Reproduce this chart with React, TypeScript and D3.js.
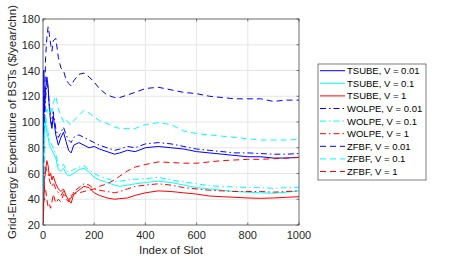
import React, { useRef, useEffect } from 'react';
import * as d3 from 'd3';

const slots = [1, 3, 6, 10, 15, 20, 25, 30, 35, 40, 50, 60, 70, 80, 90, 100, 110, 120, 140, 160, 180, 200, 220, 250, 280, 300, 330, 360, 400, 450, 500, 550, 600, 650, 700, 750, 800, 850, 900, 950, 1000];

const tsube001 = [22, 140, 110, 125, 135, 128, 110, 100, 95, 105, 90, 82, 88, 92, 85, 78, 76, 82, 84, 82, 80, 81, 79, 77, 75, 76, 78, 77, 80, 81, 80, 79, 77, 76, 75, 74, 73, 73, 72, 72, 72.5];
const tsube01 = [22, 70, 95, 100, 92, 88, 82, 80, 78, 76, 72, 63, 62, 64, 60, 58, 59, 60, 63, 64, 61, 57, 55, 53, 51, 50, 51, 52, 53, 54, 53, 51, 49, 48, 47, 46, 45.5, 45, 44.6, 45.5, 46.5];
const tsube1 = [22, 40, 55, 62, 70, 66, 58, 60, 55, 58, 52, 48, 46, 48, 43, 39, 37, 44, 47, 50, 49, 45, 43, 41, 40, 40.5, 41, 43, 45, 46.5, 46, 45, 44, 42.5, 42, 41.5, 41, 40.7, 41, 41.5, 42];
const wolpe001 = [22, 120, 100, 118, 130, 125, 112, 104, 98, 108, 95, 88, 92, 96, 90, 86, 84, 88, 90, 88, 86, 84, 82, 80, 78, 79, 81, 80, 83, 84, 83, 81, 79, 78, 77, 76, 76, 75.5, 75, 75, 75.5];
const wolpe01 = [22, 85, 100, 105, 97, 92, 86, 84, 82, 80, 75, 67, 66, 67, 63, 61, 62, 63, 65, 66, 63, 60, 58, 56, 54, 54, 55, 55.5, 56, 57, 55, 53.5, 52, 50.5, 50, 49.5, 49, 49, 48.5, 49, 49.3];
const wolpe1 = [22, 45, 58, 65, 62, 60, 55, 52, 50, 53, 48, 45, 43, 46, 42, 40, 41, 46, 49, 52, 51, 48, 47, 46, 45, 46, 48, 50, 51, 52, 51, 49, 48, 47, 46.5, 46, 46, 46, 45.5, 46, 46.5];
const zfbf001 = [22, 60, 110, 150, 165, 174, 168, 160, 155, 163, 165, 150, 142, 140, 133, 130, 128, 132, 137, 138, 135, 131, 126, 121, 119, 119, 121, 123, 126, 127, 125, 123, 122, 120, 119, 118, 118, 118, 116, 117, 117];
const zfbf01 = [22, 50, 90, 105, 110, 108, 106, 112, 108, 115, 120, 110, 105, 100, 102, 99, 98, 101, 105, 109, 107, 104, 101, 99, 96, 95, 95, 95, 98, 99.5, 98, 93, 91, 90, 89, 88, 87, 86, 86, 86, 86.5];
const zfbf1 = [22, 35, 50, 48, 40, 34, 36, 33, 38, 44, 37, 40, 38, 44, 40, 38, 43, 44, 45, 46, 47, 48, 50, 52, 55, 58, 62, 65, 67, 69, 68.5, 68, 68, 69, 70, 70.5, 71, 71, 71.5, 72, 72.5];

const seriesNames = ['TSUBE, V = 0.01', 'TSUBE, V = 0.1', 'TSUBE, V = 1', 'WOLPE, V = 0.01', 'WOLPE, V = 0.1', 'WOLPE, V = 1', 'ZFBF, V = 0.01', 'ZFBF, V = 0.1', 'ZFBF, V = 1'];
const seriesValues = [tsube001, tsube01, tsube1, wolpe001, wolpe01, wolpe1, zfbf001, zfbf01, zfbf1];
const seriesColors = ['#0000ff', '#00ffff', '#ff0000', '#0000ff', '#00ffff', '#ff0000', '#0000ff', '#00ffff', '#ff0000'];
const seriesDash = ['none', 'none', 'none', '6,3,1.5,3', '6,3,1.5,3', '6,3,1.5,3', '6,4', '6,4', '6,4'];

const xTicks = [0, 200, 400, 600, 800, 1000];
const yTicks = [20, 40, 60, 80, 100, 120, 140, 160, 180];

const App = () => {
  const chartRef = useRef(null);

  useEffect(() => {
    if (!chartRef.current) return;
    d3.select(chartRef.current).html('');

    const W = 457;
    const H = 258;
    const left = 43, right = 299, top = 19, bottom = 225;
    const axisColor = '#262626';
    const font = 'Liberation Sans, Arial, sans-serif';

    const x = d3.scaleLinear().domain([0, 1000]).range([left, right]);
    const y = d3.scaleLinear().domain([20, 180]).range([bottom, top]);

    const svg = d3
      .select(chartRef.current)
      .append('svg')
      .attr('width', W)
      .attr('height', H)
      .style('position', 'absolute')
      .style('left', '0px')
      .style('top', '0px')
      .style('background', '#fff');

    svg.append('rect').attr('x', left).attr('y', top).attr('width', right - left).attr('height', bottom - top).attr('fill', '#fff');

    // grid
    const grid = svg.append('g').attr('stroke', '#dfdfdf').attr('stroke-width', 0.8);
    xTicks.forEach(t => {
      grid.append('line').attr('x1', x(t)).attr('x2', x(t)).attr('y1', top).attr('y2', bottom);
    });
    yTicks.forEach(t => {
      grid.append('line').attr('x1', left).attr('x2', right).attr('y1', y(t)).attr('y2', y(t));
    });

    // lines
    const line = d3
      .line<number>()
      .x((d, i) => x(slots[i]))
      .y(d => y(d));

    const clip = svg.append('clipPath').attr('id', 'plotclip');
    clip.append('rect').attr('x', left).attr('y', top).attr('width', right - left).attr('height', bottom - top);

    const plot = svg.append('g').attr('clip-path', 'url(#plotclip)');
    seriesValues.forEach((vals, k) => {
      plot
        .append('path')
        .datum(vals)
        .attr('d', line)
        .attr('fill', 'none')
        .attr('stroke', seriesColors[k])
        .attr('stroke-width', 1)
        .attr('stroke-dasharray', seriesDash[k]);
    });

    // axes box and ticks
    svg
      .append('rect')
      .attr('x', left)
      .attr('y', top)
      .attr('width', right - left)
      .attr('height', bottom - top)
      .attr('fill', 'none')
      .attr('stroke', axisColor)
      .attr('stroke-width', 0.6);

    const ticks = svg.append('g').attr('stroke', axisColor).attr('stroke-width', 0.6);
    xTicks.forEach(t => {
      ticks.append('line').attr('x1', x(t)).attr('x2', x(t)).attr('y1', bottom).attr('y2', bottom - 2.5);
      ticks.append('line').attr('x1', x(t)).attr('x2', x(t)).attr('y1', top).attr('y2', top + 2.5);
    });
    yTicks.forEach(t => {
      ticks.append('line').attr('x1', left).attr('x2', left + 2.5).attr('y1', y(t)).attr('y2', y(t));
      ticks.append('line').attr('x1', right).attr('x2', right - 2.5).attr('y1', y(t)).attr('y2', y(t));
    });

    // tick labels
    xTicks.forEach(t => {
      svg
        .append('text')
        .attr('x', x(t))
        .attr('y', bottom + 14)
        .attr('text-anchor', 'middle')
        .attr('font-family', font)
        .attr('font-size', 11)
        .attr('fill', axisColor)
        .text(t);
    });
    yTicks.forEach(t => {
      svg
        .append('text')
        .attr('x', left - 3)
        .attr('y', y(t) + 4)
        .attr('text-anchor', 'end')
        .attr('font-family', font)
        .attr('font-size', 11)
        .attr('fill', axisColor)
        .text(t);
    });

    // axis labels
    svg
      .append('text')
      .attr('x', (left + right) / 2)
      .attr('y', 254)
      .attr('text-anchor', 'middle')
      .attr('font-family', font)
      .attr('font-size', 11.5)
      .attr('fill', axisColor)
      .text('Index of Slot');

    svg
      .append('text')
      .attr('transform', `translate(16,${(top + bottom) / 2}) rotate(-90)`)
      .attr('text-anchor', 'middle')
      .attr('font-family', font)
      .attr('font-size', 11.5)
      .attr('fill', axisColor)
      .text('Grid-Energy Expenditure of BSTs ($/year/chn)');

    // legend
    const lg = svg.append('g');
    lg.append('rect')
      .attr('x', 318)
      .attr('y', 64)
      .attr('width', 108)
      .attr('height', 116)
      .attr('fill', '#fff')
      .attr('stroke', axisColor)
      .attr('stroke-width', 0.6);
    seriesNames.forEach((name, k) => {
      const cy = 70.7 + k * 12.6;
      lg.append('line')
        .attr('x1', 320)
        .attr('x2', 345)
        .attr('y1', cy)
        .attr('y2', cy)
        .attr('stroke', seriesColors[k])
        .attr('stroke-width', 1)
        .attr('stroke-dasharray', seriesDash[k]);
      lg.append('text')
        .attr('x', 347)
        .attr('y', cy + 3.5)
        .attr('font-family', font)
        .attr('font-size', 9.5)
        .attr('fill', '#000')
        .text(name);
    });
  }, []);

  return <div ref={chartRef} />;
};

export default App;
